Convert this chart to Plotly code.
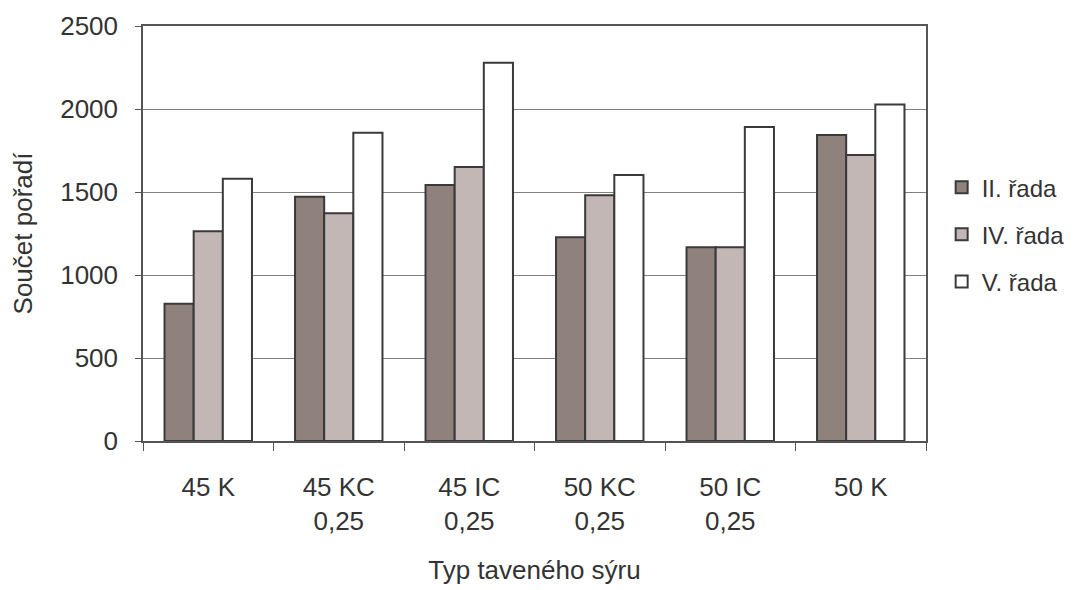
import plotly.graph_objects as go

categories = ["45 K", "45 KC<br>0,25", "45 IC<br>0,25", "50 KC<br>0,25", "50 IC<br>0,25", "50 K"]
series_names = ["II. řada", "IV. řada", "V. řada"]
rada_II = [827, 1471, 1542, 1228, 1167, 1844]
rada_IV = [1264, 1372, 1650, 1481, 1167, 1723]
rada_V = [1580, 1857, 2278, 1602, 1892, 2027]
colors = ["#8f827d", "#c2b7b4", "#ffffff"]

fig = go.Figure()
for name, vals, col in zip(series_names, [rada_II, rada_IV, rada_V], colors):
    fig.add_trace(go.Bar(
        x=categories, y=vals, name=name, legendgroup=name,
        marker=dict(color=col, line=dict(color="#3a3a3a", width=2)),
    ))

font_family = "Liberation Sans, Arial, sans-serif"
fig.update_layout(
    width=1090, height=590,
    margin=dict(l=135, r=172, t=18, b=157, autoexpand=False),
    paper_bgcolor="white", plot_bgcolor="white",
    barmode="group", bargap=0.33, bargroupgap=0,
    font=dict(family=font_family, size=26, color="#333333"),
    legend=dict(x=1.02, y=0.665, xanchor="left", yanchor="top",
                font=dict(size=24, color="#333333"),
                tracegroupgap=13, itemwidth=30),
    showlegend=True,
)
fig.update_xaxes(
    title=dict(text="Typ taveného sýru", font=dict(size=26), standoff=26),
    showline=True, linecolor="#555555", linewidth=1.5, mirror=True,
    ticks="outside", tickson="boundaries", ticklen=8, tickcolor="#555555",
    tickfont=dict(size=26), ticklabelstandoff=22, automargin=False,
)
fig.update_yaxes(
    title=dict(text="Součet pořadí", font=dict(size=26), standoff=22),
    range=[0, 2500], dtick=500,
    showline=True, linecolor="#555555", linewidth=1.5, mirror=True,
    showgrid=True, gridcolor="#808080", gridwidth=1,
    ticks="outside", ticklen=6, tickcolor="#555555",
    tickfont=dict(size=26), ticklabelstandoff=12,
    zeroline=False, automargin=False,
)
fig.write_html("out.html")
